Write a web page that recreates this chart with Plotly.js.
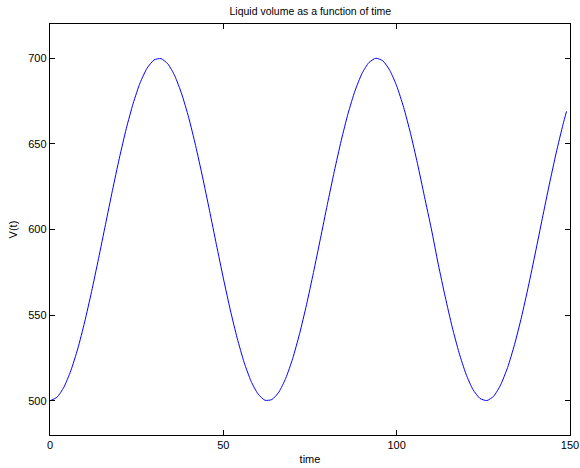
<!DOCTYPE html>
<html>
<head>
<meta charset="utf-8">
<script src="https://cdn.plot.ly/plotly-3.0.1.min.js"></script>
<style>html,body{margin:0;padding:0;background:#fff;}#chart{width:580px;height:468px;}</style>
</head>
<body>
<div id="chart"></div>
<script>
var time = [0,2,4,6,8,10,12,14,16,18,20,22,24,26,28,30,32,34,36,38,40,42,44,46,48,
  50,52,54,56,58,60,62,64,66,68,70,72,74,76,78,80,82,84,86,88,90,92,94,96,98,
  100,102,104,106,108,110,112,114,116,118,120,122,124,126,128,130,132,134,136,138,
  140,142,144,146,148,149];
var volume = [500.0,502.0,507.9,517.5,530.3,546.0,563.8,583.0,602.9,622.7,641.6,658.9,673.7,685.7,694.2,699.0,699.8,696.7,689.7,679.1,665.4,649.0,630.7,611.2,591.2,
  571.6,553.1,536.5,522.4,511.4,504.0,500.3,500.7,505.0,513.1,524.6,539.2,556.1,574.9,594.6,614.6,633.9,651.9,667.9,681.1,691.1,697.5,700.0,698.5,693.0,
  683.9,671.4,656.1,638.5,619.4,600.4,579.7,560.7,543.2,528.0,515.6,506.6,501.4,500.1,502.7,509.3,519.4,532.8,548.8,566.9,
  586.3,606.3,626.0,644.6,661.5,669.0];
var xTicks = [0,50,100,150];
var yTicks = [500,550,600,650,700];

var font = {family: 'Liberation Sans, Arial, sans-serif', size: 11, color: '#000'};

Plotly.newPlot('chart', [{
  x: time, y: volume, type: 'scatter', mode: 'lines',
  line: {color: '#0000ff', width: 1, shape: 'spline', smoothing: 0.6},
  hoverinfo: 'skip'
}], {
  width: 580, height: 468,
  margin: {l: 49.5, r: 9.5, t: 24, b: 33, pad: 0},
  paper_bgcolor: '#fff', plot_bgcolor: '#fff',
  font: font,
  showlegend: false,
  title: {text: 'Liquid volume as a function of time', font: {family: font.family, size: 10.5, color: '#000'},
          x: 0.535, xanchor: 'center', y: 0.976, yanchor: 'middle'},
  xaxis: {
    range: [0, 150], tickvals: xTicks, ticktext: xTicks.map(String),
    ticks: 'inside', ticklen: 5, tickwidth: 1, tickcolor: '#000',
    showline: true, linecolor: '#000', linewidth: 1.2, mirror: 'allticks',
    showgrid: false, zeroline: false, tickfont: font,
    title: {text: 'time', font: {family: font.family, size: 11, color: '#000'}, standoff: 4}
  },
  yaxis: {
    range: [480, 720], tickvals: yTicks, ticktext: yTicks.map(String),
    ticks: 'inside', ticklen: 5, tickwidth: 1, tickcolor: '#000',
    showline: true, linecolor: '#000', linewidth: 1.2, mirror: 'allticks',
    showgrid: false, zeroline: false, tickfont: font,
    title: {text: 'V(t)', font: {family: font.family, size: 11, color: '#000'}, standoff: 8}
  }
}, {displayModeBar: false, staticPlot: true});
</script>
</body>
</html>
